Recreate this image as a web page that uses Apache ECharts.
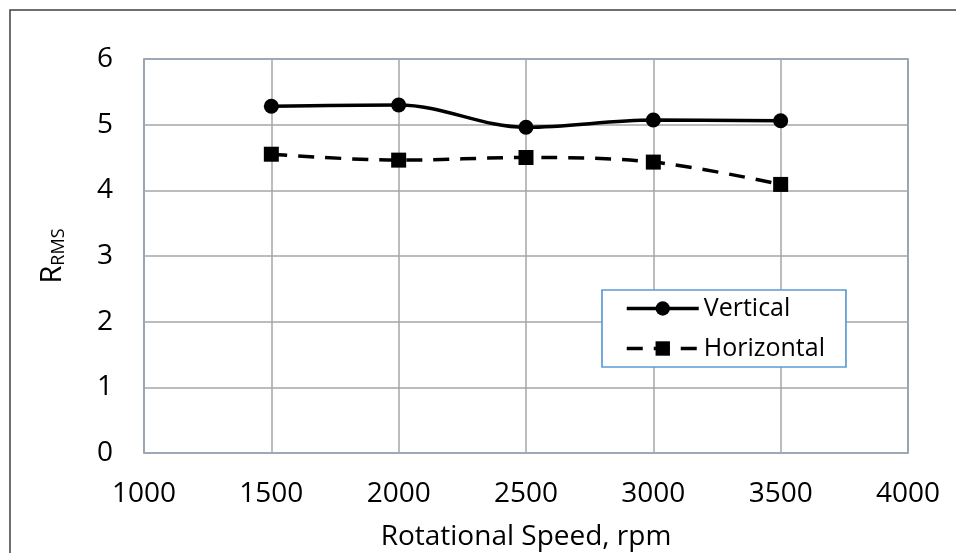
<!DOCTYPE html>
<html>
<head>
<meta charset="utf-8">
<script src="https://cdn.jsdelivr.net/npm/echarts@6/dist/echarts.min.js"></script>
<style>
  html, body { margin: 0; padding: 0; background: #fff; }
  #chart { width: 956px; height: 553px; }
</style>
</head>
<body>
<div id="chart"></div>
<script>
// Rotational speed (rpm) and RMS ratio for the two measurement directions
const speeds = [1500, 2000, 2500, 3000, 3500];
const vertical = [5.28, 5.30, 4.96, 5.07, 5.06];
const horizontal = [4.55, 4.46, 4.50, 4.43, 4.09];

const FONT = 'Open Sans';
const toPairs = (xs, ys) => xs.map((x, i) => [x, ys[i]]);

const chart = echarts.init(document.getElementById('chart'));
chart.setOption({
  animation: false,
  backgroundColor: '#fff',
  textStyle: { fontFamily: FONT },
  grid: { left: 144, top: 59, right: 48, bottom: 100, show: true,
          outerBoundsMode: 'none', containLabel: false,
          borderColor: '#5b9bd5', borderWidth: 1.7, backgroundColor: 'transparent' },
  xAxis: {
    type: 'value', min: 1000, max: 4000, interval: 500,
    name: 'Rotational Speed, rpm', nameLocation: 'middle', nameGap: 70,
    nameTextStyle: { fontSize: 28, color: '#000', fontFamily: FONT },
    axisLine: { show: false }, axisTick: { show: false },
    axisLabel: { fontSize: 28, color: '#000', margin: 27, fontFamily: FONT,
                 formatter: v => String(v) },
    splitLine: { show: true, lineStyle: { color: '#a6a6a6', width: 1.5 } }
  },
  yAxis: {
    type: 'value', min: 0, max: 6, interval: 1,
    axisLine: { show: false }, axisTick: { show: false },
    axisLabel: { fontSize: 28, color: '#000', margin: 31, fontFamily: FONT },
    splitLine: { show: true, lineStyle: { color: '#a6a6a6', width: 1.5 } }
  },
  legend: {
    left: 602, top: 290,
    orient: 'vertical', itemGap: 15, itemWidth: 72, itemHeight: 18,
    padding: [6, 21, 6, 23],
    borderColor: '#5b9bd5', borderWidth: 1.7, backgroundColor: '#fff',
    lineStyle: { width: 3.5 },
    textStyle: { fontSize: 25, color: '#000', fontFamily: FONT },
    data: ['Vertical', 'Horizontal']
  },
  graphic: [
    { type: 'rect', shape: { x: 10, y: 10, width: 1000, height: 600 },
      style: { fill: 'none', stroke: '#404040', lineWidth: 1.5 }, silent: true, z: 100 },
    { type: 'text', x: 53, y: 256, rotation: Math.PI / 2,
      style: { text: '{m|R}{s|RMS}', align: 'center', verticalAlign: 'middle', rich: {
        m: { fontSize: 29, fontFamily: FONT, fill: '#000' },
        s: { fontSize: 18, fontFamily: FONT, fill: '#000', padding: [12, 0, 0, 0] } } } }
  ],
  series: [
    { name: 'Vertical', type: 'line', smooth: 0.35, data: toPairs(speeds, vertical),
      symbol: 'circle', symbolSize: 15,
      itemStyle: { color: '#000' }, lineStyle: { color: '#000', width: 3.5 } },
    { name: 'Horizontal', type: 'line', smooth: 0.35, data: toPairs(speeds, horizontal),
      symbol: 'rect', symbolSize: 15,
      itemStyle: { color: '#000' }, lineStyle: { color: '#000', width: 3.5, type: [16, 11] } }
  ]
});
</script>
</body>
</html>
